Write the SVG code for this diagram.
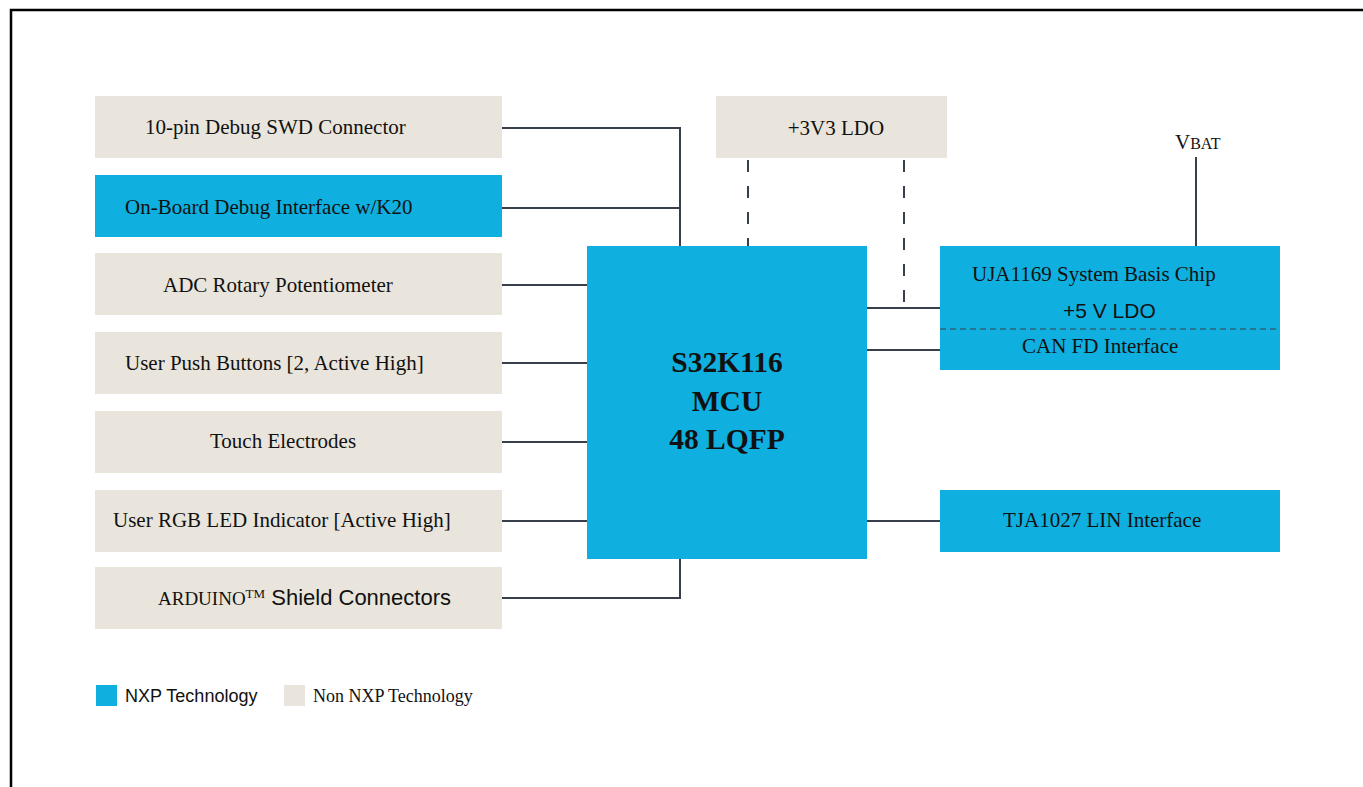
<svg xmlns="http://www.w3.org/2000/svg" width="1363" height="787" viewBox="0 0 1363 787">
<style>
.nxp{fill:#0fafdf}
.non{fill:#e9e5dc}
.serif{font-family:"Liberation Serif","Times New Roman",serif;font-size:21px;fill:#111}
.sans{font-family:"Liberation Sans",Arial,sans-serif;fill:#111}
.ln{stroke:#37404a;stroke-width:2;fill:none}
.dash{stroke:#37404a;stroke-width:2;fill:none;stroke-dasharray:12,14}
</style>
<rect width="1363" height="787" fill="#fff"/>
<path d="M11,787 V10 H1363" stroke="#000" stroke-width="2.5" fill="none"/>

<g id="connectors">
<path class="ln" d="M502,128 H680 V246"/>
<path class="ln" d="M502,208 H680"/>
<path class="ln" d="M502,285 H587"/>
<path class="ln" d="M502,363 H587"/>
<path class="ln" d="M502,442 H587"/>
<path class="ln" d="M502,521 H587"/>
<path class="ln" d="M502,598 H680 V559"/>
<path class="dash" d="M748,160 V246"/>
<path class="dash" d="M904,160 V308"/>
<path class="ln" d="M867,308 H940"/>
<path class="ln" d="M867,350 H940"/>
<path class="ln" d="M867,521 H940"/>
<path class="ln" d="M1196,157 V246"/>
</g>

<g id="swd"><rect class="non" x="95" y="96" width="407" height="62"/><text class="serif" x="145" y="134">10-pin Debug SWD Connector</text></g>
<g id="obd"><rect class="nxp" x="95" y="175" width="407" height="62"/><text class="serif" x="125" y="214">On-Board Debug Interface w/K20</text></g>
<g id="adc"><rect class="non" x="95" y="253" width="407" height="62"/><text class="serif" x="163" y="292">ADC Rotary Potentiometer</text></g>
<g id="push"><rect class="non" x="95" y="332" width="407" height="62"/><text class="serif" x="125" y="370">User Push Buttons [2, Active High]</text></g>
<g id="touch"><rect class="non" x="95" y="411" width="407" height="62"/><text class="serif" x="210" y="448">Touch Electrodes</text></g>
<g id="rgb"><rect class="non" x="95" y="490" width="407" height="62"/><text class="serif" x="113" y="527">User RGB LED Indicator [Active High]</text></g>
<g id="arduino"><rect class="non" x="95" y="567" width="407" height="62"/><text class="serif" x="158" y="605" style="font-size:19px">ARDUINO<tspan style="font-size:13px" dy="-7">TM</tspan><tspan class="sans" style="font-size:22px" dy="7"> Shield Connectors</tspan></text></g>

<g id="ldo33"><rect class="non" x="716" y="96" width="231" height="62"/><text class="serif" x="836" y="135" text-anchor="middle">+3V3 LDO</text></g>

<g id="mcu"><rect class="nxp" x="587" y="246" width="280" height="313"/>
<text class="serif" style="font-size:29.5px;font-weight:bold" text-anchor="middle"><tspan x="727" y="372">S32K116</tspan><tspan x="727" y="411">MCU</tspan><tspan x="727" y="449">48 LQFP</tspan></text></g>

<g id="uja"><rect class="nxp" x="940" y="246" width="340" height="124"/>
<line x1="940" y1="329" x2="1280" y2="329" stroke="#37404a" stroke-width="1.2" stroke-dasharray="6,4"/>
<text class="serif" x="972" y="281">UJA1169 System Basis Chip</text>
<text class="sans" style="font-size:21px" x="1063" y="318">+5 V LDO</text>
<text class="serif" x="1022" y="353">CAN FD Interface</text></g>

<g id="tja"><rect class="nxp" x="940" y="490" width="340" height="62"/><text class="serif" x="1003" y="527">TJA1027 LIN Interface</text></g>

<g id="vbat"><text class="serif" x="1175" y="149">V<tspan style="font-size:16px">BAT</tspan></text></g>

<g id="legend">
<rect class="nxp" x="96" y="685" width="21" height="21"/>
<text class="sans" style="font-size:18px" x="125" y="702">NXP Technology</text>
<rect class="non" x="284" y="685" width="21" height="21"/>
<text class="serif" style="font-size:18px" x="313" y="702">Non NXP Technology</text>
</g>
</svg>
